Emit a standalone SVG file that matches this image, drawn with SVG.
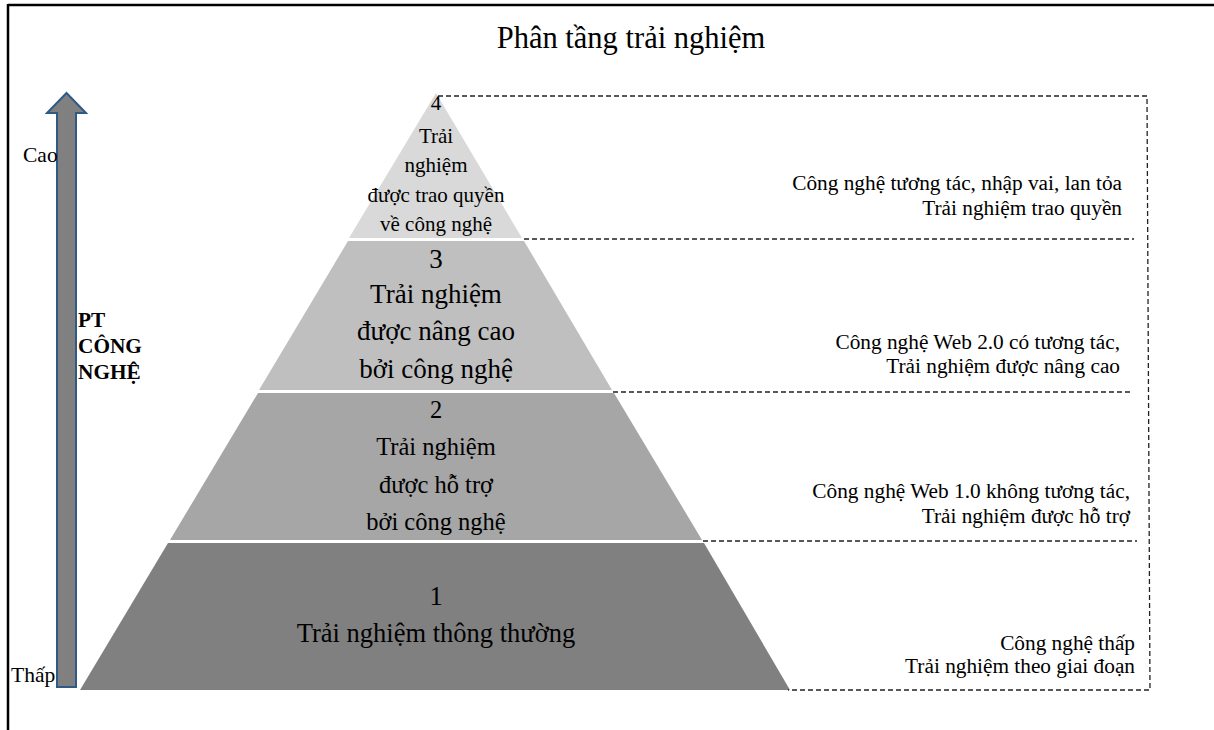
<svg xmlns="http://www.w3.org/2000/svg" width="1214" height="730" viewBox="0 0 1214 730">
  <style>
    text { font-family: "Liberation Serif", "Times New Roman", serif; fill: #000; }
    .title { font-size: 30.5px; }
    .t4 { font-size: 21px; text-anchor: middle; }
    .t3 { font-size: 27px; text-anchor: middle; }
    .t2 { font-size: 24.5px; text-anchor: middle; }
    .t1 { font-size: 26.5px; text-anchor: middle; }
    .side { font-size: 21.3px; text-anchor: end; }
    .axis { font-size: 21.5px; }
    .bold { font-size: 21.3px; font-weight: bold; }
    .dash { fill: none; stroke: #222; stroke-width: 1.3; stroke-dasharray: 5 3; }
  </style>

  <!-- frame -->
  <line x1="8" y1="5" x2="1214" y2="5" stroke="#000" stroke-width="2.5"/>
  <line x1="8" y1="4" x2="8" y2="730" stroke="#000" stroke-width="2.5"/>

  <text class="title" x="631" y="48" text-anchor="middle">Phân tầng trải nghiệm</text>

  <!-- technology axis arrow -->
  <g id="axis-arrow">
    <path d="M57,687 L57,113 L47,113 L66.5,93 L86,113 L76,113 L76,687 Z" fill="#808080" stroke="#2f5a86" stroke-width="2"/>
    <text class="axis" x="23" y="162">Cao</text>
    <text class="axis" x="11" y="682">Thấp</text>
    <text class="bold" x="78" y="327">PT</text>
    <text class="bold" x="78" y="353">CÔNG</text>
    <text class="bold" x="78" y="379">NGHỆ</text>
  </g>

  <!-- pyramid tiers -->
  <g id="tier-4">
    <polygon points="436,93 522,238 349,238" fill="#d9d9d9"/>
    <text class="t4" x="436" y="110">4</text>
    <text class="t4" x="436" y="143">Trải</text>
    <text class="t4" x="436" y="172">nghiệm</text>
    <text class="t4" x="436" y="202">được trao quyền</text>
    <text class="t4" x="436" y="231">về công nghệ</text>
  </g>
  <g id="tier-3">
    <polygon points="348,241 524,241 612,390 259,390" fill="#bfbfbf"/>
    <text class="t3" x="436" y="268">3</text>
    <text class="t3" x="436" y="303">Trải nghiệm</text>
    <text class="t3" x="436" y="340">được nâng cao</text>
    <text class="t3" x="436" y="378">bởi công nghệ</text>
  </g>
  <g id="tier-2">
    <polygon points="258,393 614,393 702,540 170,540" fill="#a6a6a6"/>
    <text class="t2" x="436" y="418">2</text>
    <text class="t2" x="436" y="455">Trải nghiệm</text>
    <text class="t2" x="436" y="493">được hỗ trợ</text>
    <text class="t2" x="436" y="530">bởi công nghệ</text>
  </g>
  <g id="tier-1">
    <polygon points="168,543 704,543 790,690 80,690" fill="#808080"/>
    <text class="t1" x="436" y="605">1</text>
    <text class="t1" x="436" y="642">Trải nghiệm thông thường</text>
  </g>

  <!-- dashed guides to the side notes -->
  <g id="connectors">
    <polyline class="dash" points="438,96 1147,96 1150,690 788,690"/>
    <line class="dash" x1="524" y1="239" x2="1134" y2="239"/>
    <line class="dash" x1="613" y1="392" x2="1133" y2="392"/>
    <line class="dash" x1="703" y1="541" x2="1137" y2="541"/>
  </g>

  <!-- side notes -->
  <g id="note-4">
    <text class="side" x="1122" y="190">Công nghệ tương tác, nhập vai, lan tỏa</text>
    <text class="side" x="1122" y="215">Trải nghiệm trao quyền</text>
  </g>
  <g id="note-3">
    <text class="side" x="1120" y="349">Công nghệ Web 2.0 có tương tác,</text>
    <text class="side" x="1120" y="373">Trải nghiệm được nâng cao</text>
  </g>
  <g id="note-2">
    <text class="side" x="1130" y="498">Công nghệ Web 1.0 không tương tác,</text>
    <text class="side" x="1130" y="523">Trải nghiệm được hỗ trợ</text>
  </g>
  <g id="note-1">
    <text class="side" x="1135" y="650">Công nghệ thấp</text>
    <text class="side" x="1135" y="673">Trải nghiệm theo giai đoạn</text>
  </g>
</svg>
